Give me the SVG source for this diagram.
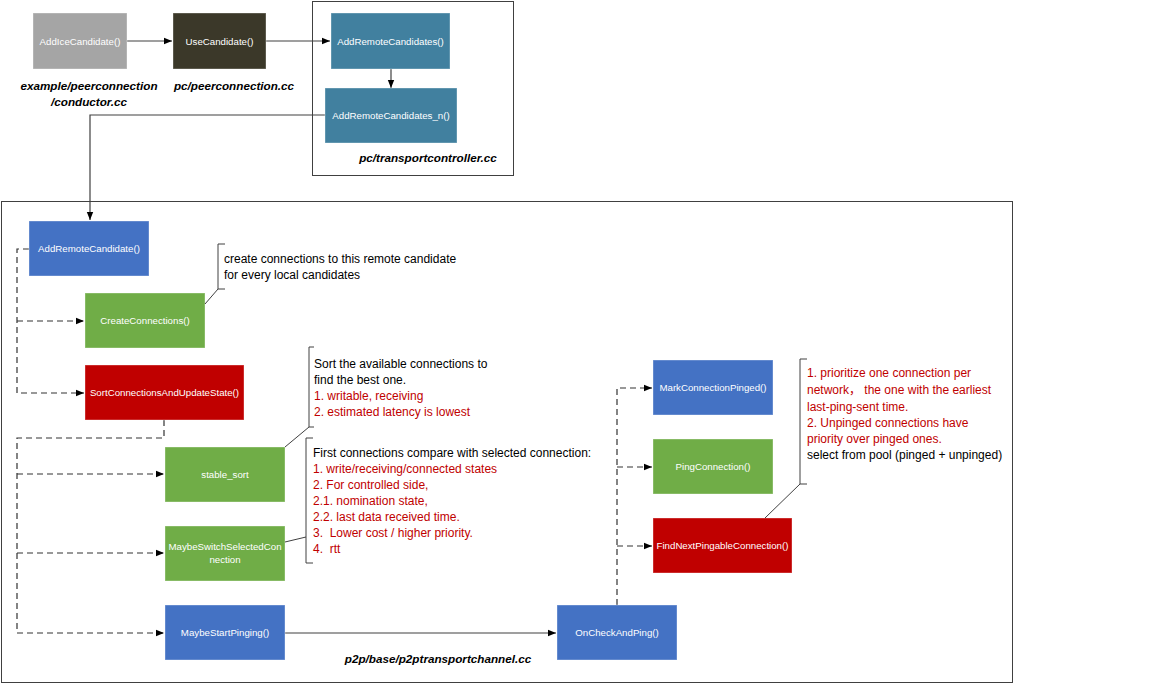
<svg xmlns="http://www.w3.org/2000/svg" width="1152" height="684" viewBox="0 0 1152 684">
<style>
.n rect{stroke:#ffffff;stroke-opacity:0.35;stroke-width:1}
.n text{font-family:"Liberation Sans",Arial,sans-serif;font-size:9.7px;fill:#ffffff;text-anchor:middle}
.lbl{font-family:"Liberation Sans",Arial,sans-serif;font-size:11.7px;font-weight:bold;font-style:italic;fill:#000;text-anchor:middle}
.ann{font-family:"Liberation Sans",Arial,"Noto Sans CJK SC",sans-serif;font-size:12px;fill:#000}
.red{fill:#C00000}
.frame{fill:none;stroke:#404040;stroke-width:1}
.c{fill:none;stroke:#404040;stroke-width:1.2}
.d{fill:none;stroke:#333333;stroke-width:1.2;stroke-dasharray:6 4}
.br{fill:none;stroke:#404040;stroke-width:1}
</style>
<defs>
<marker id="ah" viewBox="0 0 10 10" refX="10" refY="5" markerWidth="8" markerHeight="8" markerUnits="userSpaceOnUse" orient="auto"><path d="M0,1 L10,5 L0,9 z" fill="#000"/></marker>
</defs>
<rect width="1152" height="684" fill="#ffffff"/>

<g id="frames">
<rect class="frame" x="312.5" y="1.5" width="201" height="174"/>
<rect class="frame" x="1.5" y="201.5" width="1011" height="481"/>
</g>

<g id="labels">
<text class="lbl" x="89" y="90">example/peerconnection</text>
<text class="lbl" x="89" y="106">/conductor.cc</text>
<text class="lbl" x="234" y="90">pc/peerconnection.cc</text>
<text class="lbl" x="428" y="162">pc/transportcontroller.cc</text>
<text class="lbl" x="438" y="663">p2p/base/p2ptransportchannel.cc</text>
</g>

<g id="connectors">
<path class="c" d="M127,41 H172" marker-end="url(#ah)"/>
<path class="c" d="M266,41 H330" marker-end="url(#ah)"/>
<path class="c" d="M391,69 V88" marker-end="url(#ah)"/>
<path class="c" d="M325,115 H90 V220" marker-end="url(#ah)"/>
<path class="d" d="M29,249 H17 V393 H84" marker-end="url(#ah)"/>
<path class="d" d="M17,321 H84" marker-end="url(#ah)"/>
<path class="d" d="M164,420 V438 H17 V633 H164" marker-end="url(#ah)"/>
<path class="d" d="M17,474 H164" marker-end="url(#ah)"/>
<path class="d" d="M17,553 H164" marker-end="url(#ah)"/>
<path class="c" d="M285,633 H556" marker-end="url(#ah)"/>
<path class="d" d="M617,605 V388 H652" marker-end="url(#ah)"/>
<path class="d" d="M617,467 H652" marker-end="url(#ah)"/>
<path class="d" d="M617,546 H652" marker-end="url(#ah)"/>
</g>

<g id="n-addice" class="n"><rect x="33" y="13" width="94" height="56" fill="#A5A5A5"/><text x="80" y="44.5">AddIceCandidate()</text></g>
<g id="n-usecand" class="n"><rect x="173" y="13" width="93" height="56" fill="#3B3829"/><text x="219.5" y="44.5">UseCandidate()</text></g>
<g id="n-addremotes" class="n"><rect x="331" y="13" width="119" height="56" fill="#41809F"/><text x="390.5" y="44.5">AddRemoteCandidates()</text></g>
<g id="n-addremotesn" class="n"><rect x="325" y="88" width="132" height="55" fill="#41809F"/><text x="391" y="118.5">AddRemoteCandidates_n()</text></g>

<g id="n-addremote" class="n"><rect x="29" y="221" width="120" height="55" fill="#4472C4"/><text x="89" y="252">AddRemoteCandidate()</text></g>
<g id="n-create" class="n"><rect x="85" y="293" width="120" height="55" fill="#70AD47"/><text x="145" y="324">CreateConnections()</text></g>
<g id="n-sort" class="n"><rect x="85" y="365" width="159" height="55" fill="#C00000"/><text x="164.5" y="396">SortConnectionsAndUpdateState()</text></g>
<g id="n-stable" class="n"><rect x="165" y="447" width="120" height="55" fill="#70AD47"/><text x="225" y="478">stable_sort</text></g>
<g id="n-maybeswitch" class="n"><rect x="165" y="526" width="120" height="55" fill="#70AD47"/><text x="225" y="550">MaybeSwitchSelectedCon</text><text x="225" y="563">nection</text></g>
<g id="n-maybestart" class="n"><rect x="165" y="605" width="120" height="55" fill="#4472C4"/><text x="225" y="636">MaybeStartPinging()</text></g>
<g id="n-oncheck" class="n"><rect x="557" y="605" width="120" height="55" fill="#4472C4"/><text x="617" y="636">OnCheckAndPing()</text></g>
<g id="n-mark" class="n"><rect x="653" y="360" width="120" height="55" fill="#4472C4"/><text x="713" y="391">MarkConnectionPinged()</text></g>
<g id="n-ping" class="n"><rect x="653" y="439" width="120" height="55" fill="#70AD47"/><text x="713" y="470">PingConnection()</text></g>
<g id="n-findnext" class="n"><rect x="653" y="518" width="139" height="55" fill="#C00000"/><text x="722.5" y="549">FindNextPingableConnection()</text></g>

<g id="ann-create">
<path class="br" d="M225,244 H218 V289 H225"/>
<path class="br" d="M218,289 L205,304"/>
<text class="ann" x="224" y="263">create connections to this remote candidate</text>
<text class="ann" x="224" y="279">for every local candidates</text>
</g>
<g id="ann-sort">
<path class="br" d="M314,347 H309 V427 H314"/>
<path class="br" d="M309,427 L285,447"/>
<text class="ann" x="314" y="368">Sort the available connections to</text>
<text class="ann" x="314" y="384">find the best one.</text>
<text class="ann red" x="314" y="400">1. writable, receiving</text>
<text class="ann red" x="314" y="416">2. estimated latency is lowest</text>
</g>
<g id="ann-switch">
<path class="br" d="M313,438 H306 V563 H313"/>
<path class="br" d="M306,537 L285,542"/>
<text class="ann" x="313" y="457">First connections compare with selected connection:</text>
<text class="ann red" x="313" y="473">1. write/receiving/connected states</text>
<text class="ann red" x="313" y="489">2. For controlled side,</text>
<text class="ann red" x="313" y="505">2.1. nomination state,</text>
<text class="ann red" x="313" y="521">2.2. last data received time.</text>
<text class="ann red" x="313" y="537">3.&#160; Lower cost / higher priority.</text>
<text class="ann red" x="313" y="553">4.&#160; rtt</text>
</g>
<g id="ann-find">
<path class="br" d="M807,359 H800 V484 H807"/>
<path class="br" d="M800,484 L765,518"/>
<text class="ann red" x="807" y="377">1. prioritize one connection per</text>
<text class="ann red" x="807" y="394">network， the one with the earliest</text>
<text class="ann red" x="807" y="411">last-ping-sent time.</text>
<text class="ann red" x="807" y="427">2. Unpinged connections have</text>
<text class="ann red" x="807" y="443">priority over pinged ones.</text>
<text class="ann" x="807" y="459">select from pool (pinged + unpinged)</text>
</g>
</svg>
